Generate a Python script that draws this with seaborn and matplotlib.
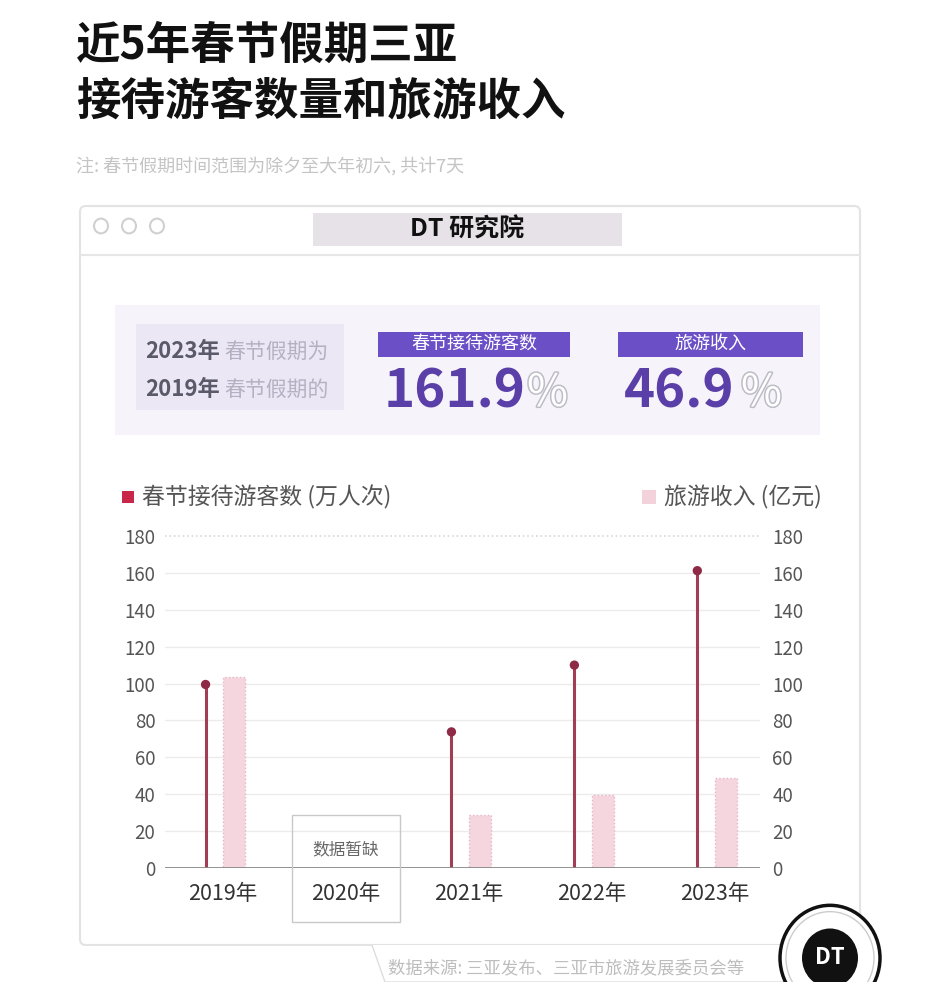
import numpy as np
import matplotlib.pyplot as plt
import matplotlib.patheffects as pe
from matplotlib.patches import Rectangle, FancyBboxPatch, Circle, Polygon
import seaborn as sns

# data
years = ['2019年', '2020年', '2021年', '2022年', '2023年']
visitors = [99.5, np.nan, 73.8, 110.0, 161.2]      # 万人次
revenue = [103.5, np.nan, 28.7, 39.6, 48.6]       # 亿元
y_ticks = [0, 20, 40, 60, 80, 100, 120, 140, 160, 180]
ratio_visitors = '161.9'
ratio_revenue = '46.9'

W, H = 932, 982

sns.set_theme(style='white')
plt.rcParams['font.family'] = ['Noto Sans CJK SC', 'DejaVu Sans']

fig = plt.figure(figsize=(W / 100, H / 100), dpi=100)
fig.patch.set_facecolor('white')


def fx(x):
    return x / W


def fy(y):
    return 1 - y / H


def box(x0, y0, x1, y1, zorder=-1, **kw):
    r = Rectangle((fx(x0), fy(y1)), fx(x1) - fx(x0), fy(y0) - fy(y1),
                  transform=fig.transFigure, zorder=zorder, **kw)
    fig.add_artist(r)
    return r


# title + note
fig.text(fx(76), fy(46), '近5年春节假期三亚', fontsize=32, fontweight='bold',
         color='#111111', va='center', ha='left')
fig.text(fx(76), fy(102), '接待游客数量和旅游收入', fontsize=32, fontweight='bold',
         color='#111111', va='center', ha='left')
fig.text(fx(76), fy(166), '注: 春节假期时间范围为除夕至大年初六, 共计7天', fontsize=13,
         color='#c4c4c4', va='center', ha='left')

# browser-like frame
frame = FancyBboxPatch((fx(80), fy(945)), fx(860) - fx(80), fy(206) - fy(945),
                       boxstyle='round,pad=0,rounding_size=0.006',
                       transform=fig.transFigure, facecolor='white',
                       edgecolor='#e3e3e3', lw=1.5, zorder=-2)
fig.add_artist(frame)
fig.add_artist(plt.Line2D([fx(80), fx(860)], [fy(255), fy(255)],
                          transform=fig.transFigure, color='#e6e6e6', lw=1.5, zorder=-1))
for cx in [101, 129, 157]:
    fig.add_artist(Circle((fx(cx), fy(226)), 0.0075, transform=fig.transFigure,
                          facecolor='white', edgecolor='#d0d0d0', lw=1.5, zorder=-1))
box(313, 213, 622, 246, facecolor='#e6e2e8', edgecolor='none')
fig.text(fx(467), fy(230), 'DT 研究院', fontsize=18, fontweight='bold', style='italic',
         color='#111111', ha='center', va='center')

# summary panel
box(115, 305, 820, 435, facecolor='#f6f3fa', edgecolor='none')
box(136, 324, 344, 410, facecolor='#ece7f5', edgecolor='none')
for yy, yr, rest in [(352, '2023年', '春节假期为'), (390, '2019年', '春节假期的')]:
    fig.text(fx(145), fy(yy), yr, fontsize=16, fontweight='bold', color='#5a5a6a',
             ha='left', va='center')
    fig.text(fx(224), fy(yy), rest, fontsize=15, color='#b5b0c2', ha='left', va='center')

for x0, x1, label, num, pct_x in [(378, 570, '春节接待游客数', ratio_visitors, 527),
                                   (618, 803, '旅游收入', ratio_revenue, 741)]:
    box(x0, 332, x1, 357, facecolor='#6a4fc6', edgecolor='none')
    fig.text(fx((x0 + x1) / 2), fy(344), label, fontsize=13, color='white',
             ha='center', va='center')
    fig.text(fx(x0 + 6), fy(392), num, fontsize=38, fontweight='black', color='#5b3fa8',
             ha='left', va='center')
    fig.text(fx(pct_x), fy(393), '%', fontsize=32, color='white', ha='left', va='center',
             path_effects=[pe.withStroke(linewidth=2.2, foreground='#bdbdc6')])

# legend
box(122, 491, 134, 503, facecolor='#c8274a', edgecolor='none')
fig.text(fx(142), fy(497), '春节接待游客数 (万人次)', fontsize=16.5, color='#555555',
         ha='left', va='center')
box(642, 490, 656, 504, facecolor='#f3d2dc', edgecolor='none')
fig.text(fx(664), fy(497), '旅游收入 (亿元)', fontsize=16.5, color='#555555',
         ha='left', va='center')

# chart
ax = fig.add_axes([fx(165), fy(868), fx(760) - fx(165), fy(536) - fy(868)])
ax.set_zorder(1)
ax.set_facecolor('none')
x = np.arange(len(years))
vis = np.array(visitors)
rev = np.array(revenue)

for t in y_ticks[1:-1]:
    ax.axhline(t, color='#ebebeb', lw=1, zorder=0)
ax.axhline(y_ticks[-1], color='#d8d8d8', lw=1.2, ls=':', zorder=0, clip_on=False)

ok = ~np.isnan(vis)
ax.vlines(x[ok] - 0.14, 0, vis[ok], color='#a33c55', lw=2.2, zorder=3)
sns.scatterplot(x=x[ok] - 0.14, y=vis[ok], ax=ax, s=45, color='#8e2a46',
                edgecolor='none', zorder=4, legend=False)
okr = ~np.isnan(rev)
ax.bar(x[okr] + 0.09, rev[okr], width=0.18, color='#f5d6df', edgecolor='#e6b7c5',
       lw=1, ls=':', zorder=2)
ax.axhline(0, color='#8a8a8a', lw=1.3, zorder=5)

ax.set_xlim(-0.47, 4.37)
ax.set_ylim(0, 180)
ax.set_yticks(y_ticks)
ax.set_yticklabels([str(t) for t in y_ticks], fontsize=13.5, color='#555555')
ax.set_xticks(x)
ax.set_xticklabels(years, fontsize=15.5, fontweight='medium', color='#333333')
ax.tick_params(axis='x', length=0, pad=11)
ax.tick_params(axis='y', length=0, pad=7)
for s in ax.spines.values():
    s.set_visible(False)

ax2 = ax.twinx()
ax2.set_ylim(0, 180)
ax2.set_yticks(y_ticks)
ax2.set_yticklabels([str(t) for t in y_ticks], fontsize=13.5, color='#555555')
ax2.tick_params(axis='y', length=0, pad=9)
for s in ax2.spines.values():
    s.set_visible(False)

# missing-data box for 2020
box(292, 815, 400, 922, zorder=3, facecolor='none', edgecolor='#c8c8c8', lw=1)
fig.text(fx(346), fy(850), '数据暂缺', fontsize=12, color='#666666', ha='center', va='center')

# footer
fig.add_artist(Polygon([[fx(372), fy(945)], [fx(385), fy(982)], [fx(800), fy(982)],
                        [fx(800), fy(945)]], closed=False, transform=fig.transFigure,
                       facecolor='white', edgecolor='#dddddd', lw=1, zorder=2))
fig.text(fx(388), fy(968), '数据来源: 三亚发布、三亚市旅游发展委员会等', fontsize=12.5,
         color='#bdbdbd', ha='left', va='center', zorder=3)
fig.add_artist(Circle((fx(830), fy(958)), 50 / W, transform=fig.transFigure,
                      facecolor='white', edgecolor='#111111', lw=2.5, zorder=4))
fig.add_artist(Circle((fx(830), fy(958)), 44 / W, transform=fig.transFigure,
                      facecolor='white', edgecolor='#cccccc', lw=1, zorder=4))
fig.add_artist(Circle((fx(830), fy(958)), 28 / W, transform=fig.transFigure,
                      facecolor='#111111', edgecolor='none', zorder=4))
fig.text(fx(830), fy(958), 'DT', fontsize=16, fontweight='bold', style='italic',
         color='white', ha='center', va='center', zorder=5)

fig.savefig('out.png', dpi=100, facecolor='white')
